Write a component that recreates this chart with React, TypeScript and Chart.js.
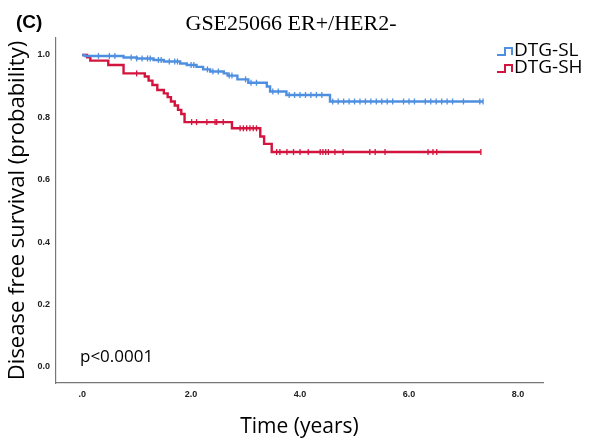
import { useEffect, useRef } from "react";
import { Chart, registerables } from "chart.js";

Chart.register(...registerables);

const xTicks = [0, 2, 4, 6, 8];
const xTickLabels = [".0", "2.0", "4.0", "6.0", "8.0"];
const yTicks = [0, 0.2, 0.4, 0.6, 0.8, 1.0];
const seriesNames = ["DTG-SL", "DTG-SH"];

// Kaplan-Meier step points: time (years) and survival after that time
const slTimes = [0, 0.05, 0.76, 1.0, 1.31, 1.5, 1.8, 1.92, 2.1, 2.22, 2.35, 2.6, 2.67, 2.85, 3.05, 3.39, 3.45, 3.75, 4.55, 7.36];
const slSurv = [1.0, 0.997, 0.992, 0.989, 0.984, 0.979, 0.973, 0.968, 0.962, 0.954, 0.947, 0.941, 0.934, 0.922, 0.911, 0.899, 0.883, 0.872, 0.851, 0.851];

const shTimes = [0, 0.09, 0.15, 0.48, 0.76, 1.15, 1.22, 1.29, 1.38, 1.5, 1.57, 1.63, 1.7, 1.76, 1.82, 1.88, 2.75, 3.27, 3.34, 3.48, 7.32];
const shSurv = [1.0, 0.993, 0.982, 0.968, 0.941, 0.931, 0.918, 0.904, 0.888, 0.877, 0.865, 0.851, 0.838, 0.824, 0.811, 0.785, 0.765, 0.739, 0.715, 0.689, 0.689];

// censored observations (times)
const slCensor = [0.3, 0.5, 0.6, 0.9, 1.0, 1.1, 1.2, 1.25, 1.4, 1.45, 1.6, 1.7, 1.75, 2.0, 2.05, 2.3, 2.4, 2.5, 2.7, 2.75, 3.0, 3.1, 3.2, 3.5, 3.6, 3.8, 3.9, 4.0, 4.1, 4.2, 4.3, 4.4, 4.6, 4.7, 4.8, 4.9, 5.0, 5.1, 5.2, 5.3, 5.4, 5.5, 5.6, 5.7, 5.9, 6.0, 6.1, 6.3, 6.4, 6.5, 6.6, 6.7, 6.8, 7.0, 7.3, 7.36];
const shCensor = [1.0, 2.01, 2.1, 2.29, 2.44, 2.47, 2.59, 2.9, 2.96, 3.02, 3.08, 3.14, 3.2, 3.57, 3.63, 3.76, 3.88, 4.0, 4.15, 4.37, 4.42, 4.47, 4.52, 4.64, 4.79, 5.28, 5.38, 5.56, 6.35, 6.44, 6.51, 7.32];

const BLUE = "#4f8fdf";
const RED = "#d3143f";

function levelAt(times: number[], surv: number[], t: number) {
  let v = surv[0];
  for (let i = 0; i < times.length; i++) {
    if (times[i] <= t) v = surv[i];
  }
  return v;
}

const textPlugin = {
  id: "kmText",
  afterDraw(chart: any) {
    const ctx = chart.ctx as CanvasRenderingContext2D;
    const area = chart.chartArea;
    ctx.save();
    ctx.fillStyle = "#000";
    ctx.textBaseline = "alphabetic";

    ctx.font = "bold 19px 'Liberation Sans', Arial, sans-serif";
    ctx.textAlign = "left";
    ctx.fillText("(C)", 16, 28);

    ctx.font = "22px 'Liberation Serif', 'Times New Roman', serif";
    ctx.textAlign = "center";
    ctx.fillText("GSE25066 ER+/HER2-", 291, 30);

    // legend
    const legendColors = [BLUE, RED];
    ctx.font = "19px 'Open Sans', sans-serif";
    ctx.textAlign = "left";
    ctx.textBaseline = "middle";
    seriesNames.forEach((name, i) => {
      const cy = 50 + i * 17;
      ctx.strokeStyle = legendColors[i];
      ctx.lineWidth = 2;
      ctx.beginPath();
      ctx.moveTo(497, cy + 5);
      ctx.lineTo(505, cy + 5);
      ctx.lineTo(505, cy - 2);
      ctx.lineTo(512, cy - 2);
      ctx.lineTo(512, cy + 5);
      ctx.stroke();
      ctx.fillStyle = "#000";
      ctx.fillText(name, 514, cy + 1);
    });

    // p-value
    ctx.font = "17px 'Open Sans', sans-serif";
    ctx.textBaseline = "alphabetic";
    ctx.fillText("p<0.0001", 80, 362);

    // axis titles
    ctx.font = "21px 'Open Sans', sans-serif";
    ctx.textAlign = "center";
    ctx.textBaseline = "middle";
    ctx.fillText("Time (years)", (area.left + area.right) / 2, 427);

    ctx.save();
    ctx.translate(18, (area.top + area.bottom) / 2);
    ctx.rotate(-Math.PI / 2);
    ctx.font = "22px 'Open Sans', sans-serif";
    ctx.fillText("Disease free survival (probability)", 0, 0);
    ctx.restore();

    ctx.restore();
  },
};

export default function App() {
  const ref = useRef<HTMLCanvasElement | null>(null);
  useEffect(() => {
    if (!ref.current) return;
    const lineDs = (label: string, times: number[], surv: number[], color: string) => ({
      type: "line" as const,
      label,
      data: times.map((t, i) => ({ x: t, y: surv[i] })),
      borderColor: color,
      backgroundColor: color,
      borderWidth: 2.4,
      stepped: "before" as const,
      pointRadius: 0,
      fill: false,
    });
    const censorDs = (label: string, cens: number[], times: number[], surv: number[], color: string) => ({
      type: "scatter" as const,
      label,
      data: cens.map((t) => ({ x: t, y: levelAt(times, surv, t) })),
      borderColor: color,
      backgroundColor: color,
      borderWidth: 1.3,
      pointStyle: "line" as const,
      rotation: 90,
      pointRadius: 3,
      showLine: false,
    });
    const chart = new Chart(ref.current, {
      type: "line",
      data: {
        datasets: [
          lineDs(seriesNames[0], slTimes, slSurv, BLUE),
          lineDs(seriesNames[1], shTimes, shSurv, RED),
          censorDs(seriesNames[0] + " censored", slCensor, slTimes, slSurv, BLUE),
          censorDs(seriesNames[1] + " censored", shCensor, shTimes, shSurv, RED),
        ] as any,
      },
      options: {
        animation: false,
        responsive: false,
        devicePixelRatio: 1,
        layout: { padding: { top: 38, right: 48, left: 0, bottom: 0 } },
        plugins: { legend: { display: false }, tooltip: { enabled: false }, title: { display: false } },
        scales: {
          x: {
            type: "linear",
            min: -0.48,
            max: 8.46,
            grid: { display: false, drawTicks: false },
            border: { display: true, color: "#777", width: 1.2 },
            afterBuildTicks: (scale: any) => {
              scale.ticks = xTicks.map((v) => ({ value: v }));
            },
            afterFit: (scale: any) => {
              scale.height = 62;
            },
            ticks: {
              autoSkip: false,
              maxRotation: 0,
              padding: 6,
              color: "#222",
              font: { family: "'Liberation Sans', Arial, sans-serif", size: 9, weight: "bold" },
              callback: (v: any) => {
                const i = xTicks.indexOf(Number(v));
                return i >= 0 ? xTickLabels[i] : "";
              },
            },
          },
          y: {
            type: "linear",
            min: -0.0513,
            max: 1.0545,
            grid: { display: false, drawTicks: false },
            border: { display: true, color: "#777", width: 1.2 },
            afterBuildTicks: (scale: any) => {
              scale.ticks = yTicks.map((v) => ({ value: v }));
            },
            afterFit: (scale: any) => {
              scale.width = 56;
            },
            ticks: {
              autoSkip: false,
              padding: 6,
              color: "#222",
              font: { family: "'Liberation Sans', Arial, sans-serif", size: 9, weight: "bold" },
              callback: (v: any) => Number(v).toFixed(1),
            },
          },
        },
      } as any,
      plugins: [textPlugin],
    });
    return () => chart.destroy();
  }, []);
  return (
    <div style={{ position: "absolute", left: 0, top: 0, width: 591, height: 445, background: "#fff" }}>
      <canvas ref={ref} width={591} height={445} style={{ width: 591, height: 445, display: "block" }} />
    </div>
  );
}
